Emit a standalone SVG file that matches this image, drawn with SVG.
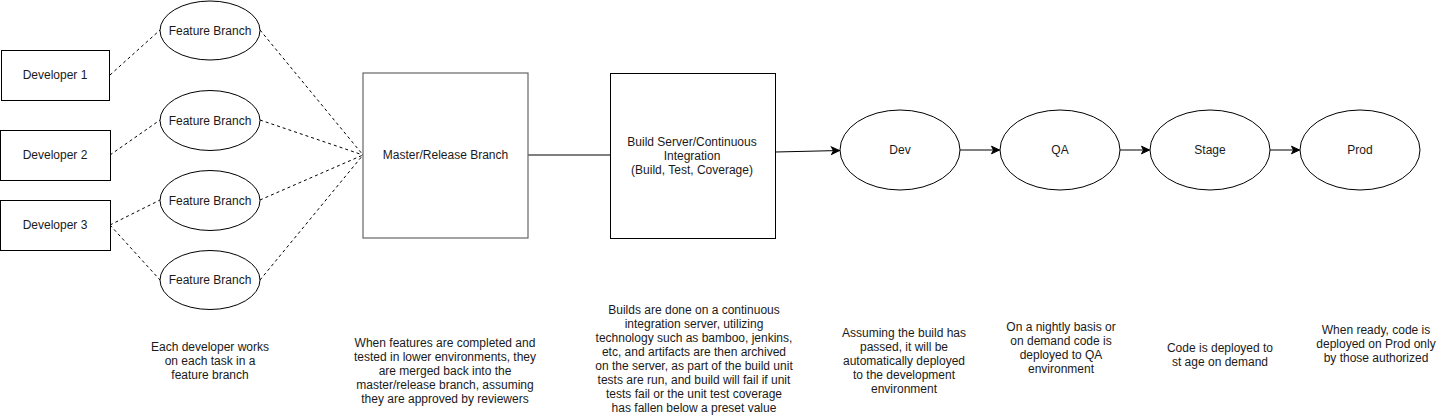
<svg xmlns="http://www.w3.org/2000/svg" width="1441" height="416" viewBox="0 0 1441 416">
<defs>
<marker id="arr" markerUnits="userSpaceOnUse" markerWidth="10" markerHeight="10" viewBox="0 0 10 10" refX="9" refY="5" orient="auto">
<path d="M1,1.2 L9,5 L1,8.8 L3,5 Z" fill="#000" stroke="#000" stroke-width="1"/>
</marker>
</defs>
<style>
text{font-family:"Liberation Sans",Arial,Helvetica,sans-serif;font-size:12px;fill:#1a1a1a;text-anchor:middle}
.box{fill:#fff;stroke:#000;stroke-width:1}
.grey{fill:#fff;stroke:#666;stroke-width:1.2}
.dash{fill:none;stroke:#000;stroke-width:1;stroke-dasharray:3 3}
.solid{fill:none;stroke:#000;stroke-width:1}
</style>
<rect width="1441" height="416" fill="#fff"/>
<g id="connectors">
<path class="dash" d="M110,75 L160,30"/>
<path class="dash" d="M110,155 L160,120"/>
<path class="dash" d="M110,225 L160,200"/>
<path class="dash" d="M110,225 L160,280"/>
<path class="dash" d="M260,30 L363,155"/>
<path class="dash" d="M260,120 L363,155"/>
<path class="dash" d="M260,200 L363,155"/>
<path class="dash" d="M260,280 L363,155"/>
<path class="solid" d="M528,155 L610,155"/>
<path class="solid" d="M775.5,152 L839.5,150.5" marker-end="url(#arr)"/>
<path class="solid" d="M960,150 L999.5,150" marker-end="url(#arr)"/>
<path class="solid" d="M1120,150 L1149.5,150" marker-end="url(#arr)"/>
<path class="solid" d="M1270,150 L1299.5,150" marker-end="url(#arr)"/>
</g>
<g id="dev1"><rect class="box" x="1.5" y="50.5" width="108" height="50"/><text x="55" y="79">Developer 1</text></g>
<g id="dev2"><rect class="box" x="0.5" y="130.5" width="110" height="50"/><text x="55" y="159">Developer 2</text></g>
<g id="dev3"><rect class="box" x="0.5" y="200.5" width="110" height="50"/><text x="55" y="229">Developer 3</text></g>
<g id="fb1"><ellipse class="box" cx="210" cy="30.5" rx="50" ry="29.5"/><text x="210" y="34.5">Feature Branch</text></g>
<g id="fb2"><ellipse class="box" cx="210" cy="120.5" rx="50" ry="30"/><text x="210" y="124.5">Feature Branch</text></g>
<g id="fb3"><ellipse class="box" cx="210" cy="200.5" rx="50" ry="30"/><text x="210" y="204.5">Feature Branch</text></g>
<g id="fb4"><ellipse class="box" cx="210" cy="280" rx="50" ry="29.5"/><text x="210" y="284">Feature Branch</text></g>
<g id="master"><rect class="grey" x="363" y="73" width="165" height="165"/><text x="445.5" y="159">Master/Release Branch</text></g>
<g id="build"><rect class="box" x="610.5" y="73.5" width="165" height="165"/>
<text x="692" y="145.5">Build Server/Continuous</text>
<text x="692" y="160">Integration</text>
<text x="692" y="174.4">(Build, Test, Coverage)</text></g>
<g id="env-dev"><ellipse class="box" cx="900" cy="150" rx="60" ry="40"/><text x="900" y="154">Dev</text></g>
<g id="env-qa"><ellipse class="box" cx="1060" cy="150" rx="60" ry="40"/><text x="1060" y="154">QA</text></g>
<g id="env-stage"><ellipse class="box" cx="1210" cy="150" rx="60" ry="40"/><text x="1210" y="154">Stage</text></g>
<g id="env-prod"><ellipse class="box" cx="1360" cy="150" rx="60" ry="40"/><text x="1360" y="154">Prod</text></g>
<g id="note1">
<text x="210" y="351">Each developer works</text>
<text x="210" y="365">on each task in a</text>
<text x="210" y="379">feature branch</text>
</g>
<g id="note2">
<text x="445" y="346.5">When features are completed and</text>
<text x="445" y="360.5">tested in lower environments, they</text>
<text x="445" y="374.5">are merged back into the</text>
<text x="445" y="388.5">master/release branch, assuming</text>
<text x="445" y="402.5">they are approved by reviewers</text>
</g>
<g id="note3">
<text x="694" y="314">Builds are done on a continuous</text>
<text x="694" y="328">integration server, utilizing</text>
<text x="694" y="342">technology such as bamboo, jenkins,</text>
<text x="694" y="356">etc, and artifacts are then archived</text>
<text x="694" y="370">on the server, as part of the build unit</text>
<text x="694" y="384">tests are run, and build will fail if unit</text>
<text x="694" y="398">tests fail or the unit test coverage</text>
<text x="694" y="412">has fallen below a preset value</text>
</g>
<g id="note4">
<text x="904" y="337">Assuming the build has</text>
<text x="904" y="351">passed, it will be</text>
<text x="904" y="365">automatically deployed</text>
<text x="904" y="379">to the development</text>
<text x="904" y="393">environment</text>
</g>
<g id="note5">
<text x="1061" y="331">On a nightly basis or</text>
<text x="1061" y="345">on demand code is</text>
<text x="1061" y="359">deployed to QA</text>
<text x="1061" y="373">environment</text>
</g>
<g id="note6">
<text x="1220" y="352">Code is deployed to</text>
<text x="1220" y="366">st age on demand</text>
</g>
<g id="note7">
<text x="1376" y="334">When ready, code is</text>
<text x="1376" y="348">deployed on Prod only</text>
<text x="1376" y="362">by those authorized</text>
</g>
</svg>
